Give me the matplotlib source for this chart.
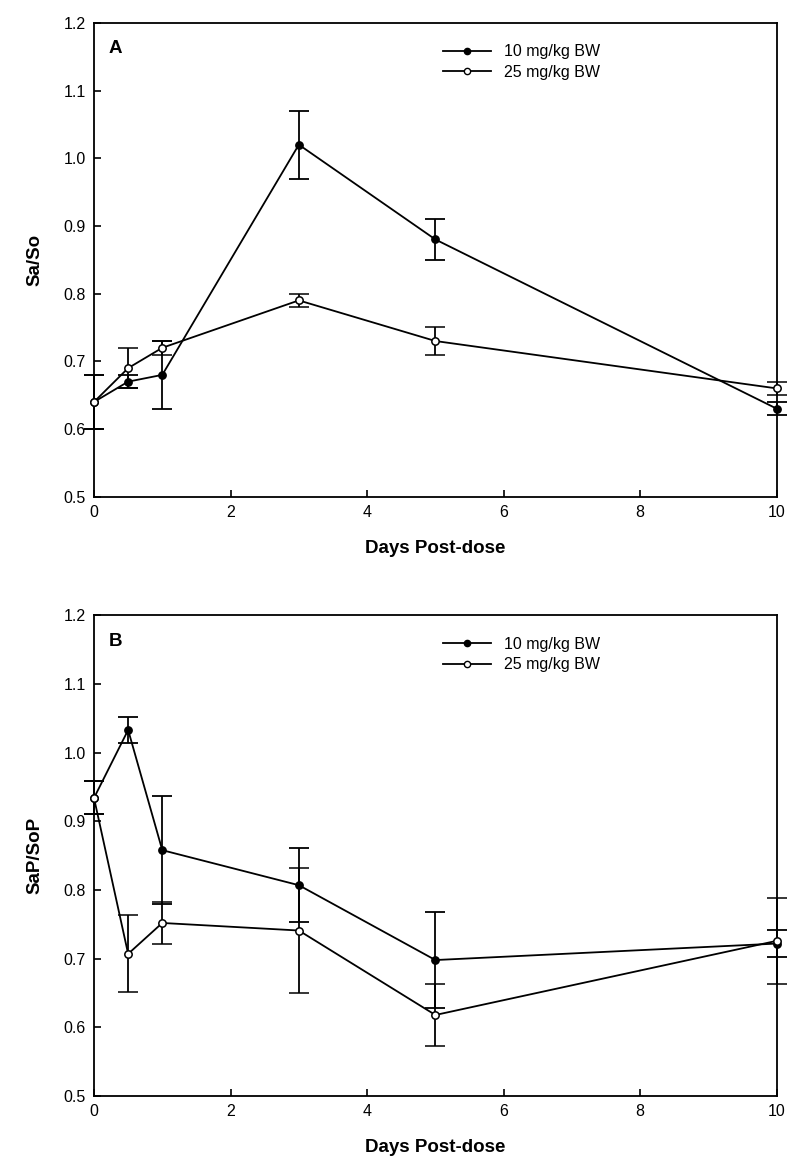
import matplotlib
matplotlib.use("Agg")
import matplotlib.pyplot as plt
from matplotlib.lines import Line2D

plt.rcParams['font.family'] = ['Liberation Sans', 'DejaVu Sans']

days = [0, 0.5, 1, 3, 5, 10]

# Panel A: Sa/So
a_10 = [0.64, 0.67, 0.68, 1.02, 0.88, 0.63]
a_10_err = [0.04, 0.01, 0.05, 0.05, 0.03, 0.01]
a_25 = [0.64, 0.69, 0.72, 0.79, 0.73, 0.66]
a_25_err = [0.04, 0.03, 0.01, 0.01, 0.02, 0.01]

# Panel B: SaP/SoP
b_10 = [0.934, 1.033, 0.858, 0.807, 0.698, 0.722]
b_10_err = [0.024, 0.019, 0.079, 0.054, 0.070, 0.020]
b_25 = [0.934, 0.707, 0.752, 0.741, 0.618, 0.726]
b_25_err = [0.024, 0.056, 0.030, 0.091, 0.045, 0.063]

labels = ['10 mg/kg BW', '25 mg/kg BW']
xticks = [0, 2, 4, 6, 8, 10]
yticks = [0.5, 0.6, 0.7, 0.8, 0.9, 1.0, 1.1, 1.2]

fig = plt.figure(figsize=(8, 11.76), dpi=100)
axA = fig.add_axes([0.1175, 0.5776, 0.8535, 0.403])
axB = fig.add_axes([0.1175, 0.068, 0.8535, 0.4088])

def draw(ax, y10, e10, y25, e25, ylabel, letter):
    ax.errorbar(days, y10, yerr=e10, color='black', lw=1.3, marker='o', ms=5.3,
                mfc='black', mec='black', capsize=7.5, capthick=1.3, elinewidth=1.3,
                clip_on=False, zorder=3)
    ax.errorbar(days, y25, yerr=e25, color='black', lw=1.3, marker='o', ms=5.3,
                mfc='white', mec='black', mew=1.1, capsize=7.5, capthick=1.3, elinewidth=1.3,
                clip_on=False, zorder=4)
    ax.set_xlim(0, 10)
    ax.set_ylim(0.5, 1.2)
    ax.set_xticks(xticks)
    ax.set_yticks(yticks)
    ax.set_yticklabels([f'{v:.1f}' for v in yticks])
    ax.tick_params(direction='in', length=5, width=1.2, labelsize=11.5, pad=6)
    for s in ax.spines.values():
        s.set_linewidth(1.3)
    ax.set_xlabel('Days Post-dose', fontsize=13.5, fontweight='bold', labelpad=14)
    ax.set_ylabel(ylabel, fontsize=13.5, fontweight='bold', labelpad=14)
    ax.text(0.022, 0.945, letter, transform=ax.transAxes, fontsize=13.5,
            fontweight='bold', ha='left', va='center')
    handles = [
        Line2D([], [], color='black', lw=1.3, marker='o', ms=4.5, mfc='black', mec='black'),
        Line2D([], [], color='black', lw=1.3, marker='o', ms=4.5, mfc='white', mec='black', mew=1.0),
    ]
    ax.legend(handles, labels, loc='upper left', bbox_to_anchor=(0.49, 0.985), frameon=False,
              fontsize=11.5, handlelength=3.0, handletextpad=0.8, labelspacing=0.35)

draw(axA, a_10, a_10_err, a_25, a_25_err, 'Sa/So', 'A')
draw(axB, b_10, b_10_err, b_25, b_25_err, 'SaP/SoP', 'B')

fig.savefig('out.png', dpi=100)
